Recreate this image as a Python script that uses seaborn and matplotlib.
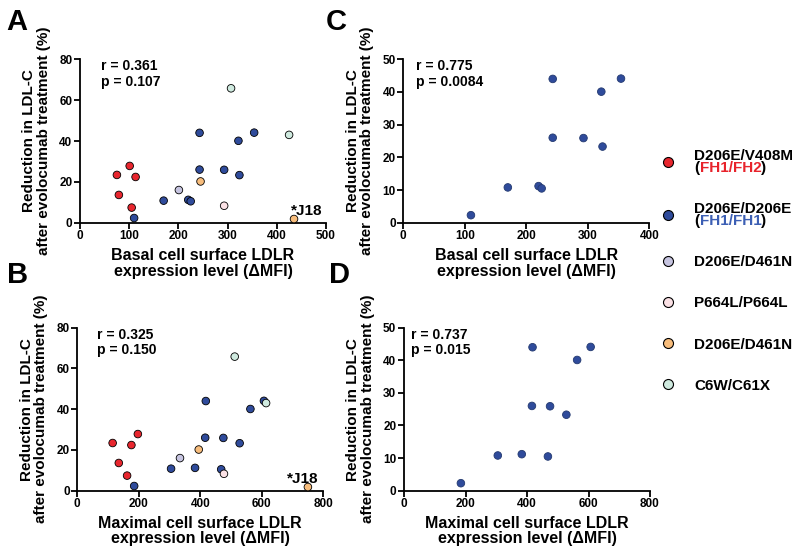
import pandas as pd
import matplotlib.pyplot as plt
from matplotlib.lines import Line2D
from matplotlib.text import Annotation
import seaborn as sns


# ---- data ----
GROUPS = ["V408M", "D206E", "D461N_a", "P664L", "D461N_b", "C6W"]
LEGEND_LABELS = ["D206E/V408M", "D206E/D206E", "D206E/D461N", "P664L/P664L", "D206E/D461N", "C6W/C61X"]
LEGEND_SUB = {"V408M": ("FH1/FH2", "#e8232b"), "D206E": ("FH1/FH1", "#3c5fb4")}
COLORS = ["#e8262e", "#2f4b9b", "#c6c4e0", "#fbe1e5", "#f8bd7c", "#cfeadf"]

group = (["V408M"] * 5 + ["D206E"] * 10 + ["D461N_a"] + ["P664L"]
         + ["D461N_b"] * 2 + ["C6W"] * 2)
basal = [75, 101, 113, 79, 105,
         110, 170, 220, 225, 243, 243, 293, 322, 324, 354,
         201, 293, 245, 435, 307, 425]
maximal = [115, 197, 176, 135, 162,
           185, 305, 383, 468, 418, 416, 475, 563, 528, 607,
           334, 477, 395, 750, 512, 614]
reduction = [23.4, 27.8, 22.4, 13.6, 7.4,
             2.3, 10.8, 11.2, 10.5, 44.0, 26.0, 25.9, 40.1, 23.3, 44.1,
             16.0, 8.3, 20.2, 1.8, 65.8, 43.0]
outlier = "J18"
outlier_idx = 18

STATS = {"A": ("0.361", "0.107"), "B": ("0.325", "0.150"),
         "C": ("0.775", "0.0084"), "D": ("0.737", "0.015")}

XLABELS = {"basal": "Basal cell surface LDLR\nexpression level (\u0394MFI)",
           "maximal": "Maximal cell surface LDLR\nexpression level (\u0394MFI)"}
YLABEL = "Reduction in LDL-C\nafter evolocumab treatment (%)"


def main() -> None:
    sns.set_style("ticks")
    plt.rcParams["font.family"] = ["Liberation Sans", "DejaVu Sans"]
    plt.rcParams["font.weight"] = "bold"
    plt.rcParams["axes.labelweight"] = "bold"
    for key in ["text.color", "axes.labelcolor", "xtick.color", "ytick.color", "axes.edgecolor"]:
        plt.rcParams[key] = "black"

    df = pd.DataFrame({"group": group, "basal": basal, "maximal": maximal, "reduction": reduction})
    palette = dict(zip(GROUPS, COLORS))

    fig = plt.figure(figsize=(8, 5.59), dpi=100)

    panels = [
        # letter, rect, x column, xmax, xstep, ymax, ystep, all groups?, stats x, j18 offset, letter pos
        ("A", [0.100, 0.6016, 0.3075, 0.2923], "basal", 500, 100, 80, 20, True, 0.085, (9, 3), (0.008, 0.946)),
        ("C", [0.5041, 0.6016, 0.3075, 0.2923], "basal", 400, 100, 50, 10, False, 0.05, None, (0.407, 0.946)),
        ("B", [0.0966, 0.1222, 0.3075, 0.2916], "maximal", 800, 200, 80, 20, True, 0.08, (-3.5, 3), (0.009, 0.494)),
        ("D", [0.505, 0.1222, 0.3075, 0.2916], "maximal", 800, 200, 50, 10, False, 0.03, None, (0.411, 0.494)),
    ]

    for letter, rect, xcol, xmax, xstep, ymax, ystep, full, sx, j18, lpos in panels:
        ax = fig.add_axes(rect)
        data = df if full else df[df["group"] == "D206E"]
        sns.scatterplot(data=data, x=xcol, y="reduction", hue="group", hue_order=GROUPS,
                        palette=palette, s=30, edgecolor="black" if full else "#23396f",
                        linewidth=0.6, legend=False, ax=ax, zorder=3, clip_on=False)

        ax.set_xlim(0, xmax)
        ax.set_ylim(0, ymax)
        ax.set_xticks(range(0, xmax + 1, xstep))
        ax.set_yticks(range(0, ymax + 1, ystep))
        sns.despine(ax=ax)
        for sp in ["left", "bottom"]:
            ax.spines[sp].set_linewidth(1.3)
        ax.tick_params(direction="out", length=4, width=1.3, labelsize=8.5, pad=1.5)

        ax.set_xlabel(XLABELS[xcol], fontsize=11.5, linespacing=1.05, labelpad=4)
        ax.set_ylabel(YLABEL, fontsize=11, linespacing=1.05, labelpad=6)

        r, p = STATS[letter]
        ax.text(sx, 1.0, f"r = {r}\np = {p}", transform=ax.transAxes, ha="left", va="top",
                fontsize=10, linespacing=1.15)

        if j18 is not None:
            ax.annotate("*" + outlier, (df.loc[outlier_idx, xcol], df.loc[outlier_idx, "reduction"]),
                        xytext=j18, textcoords="offset points", ha="center", va="baseline",
                        fontsize=11, annotation_clip=False)

        fig.text(lpos[0], lpos[1], letter, fontsize=21, fontweight="heavy", ha="left", va="baseline")

    # ---- legend ----
    handles = [Line2D([], [], ls="", marker="o", markersize=7.2, markerfacecolor=c,
                      markeredgecolor="black", markeredgewidth=0.8) for c in COLORS]
    labels = [lab + ("\n" if g in LEGEND_SUB else "") for g, lab in zip(GROUPS, LEGEND_LABELS)]
    leg = fig.legend(handles, labels, loc="upper left", bbox_to_anchor=(0.826, 0.734),
                     frameon=False, fontsize=11, handlelength=1.0, handletextpad=1.2,
                     labelspacing=1.78, borderpad=0, borderaxespad=0)
    for t in leg.get_texts():
        t.set_linespacing(0.82)
    fig.canvas.draw()

    for g, t in zip(GROUPS, leg.get_texts()):
        if g not in LEGEND_SUB:
            continue
        sub, col = LEGEND_SUB[g]
        prev = t
        for piece, c in [("(", "black"), (sub, col), (")", "black")]:
            a = Annotation(piece, xy=(1 if prev is not t else 0, 0), xycoords=prev,
                           ha="left", va="bottom", fontsize=11, color=c, zorder=6)
            fig.add_artist(a)
            prev = a

    fig.savefig("out.png", dpi=100)
    plt.close()


if __name__ == "__main__":
    main()
